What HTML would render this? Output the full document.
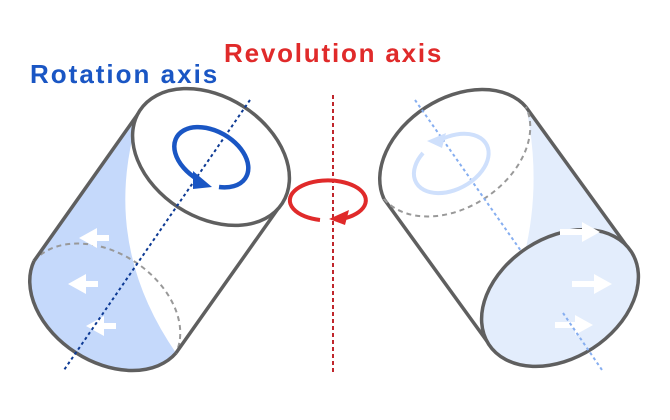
<!DOCTYPE html>
<html><head><meta charset="utf-8"><style>
html,body{margin:0;padding:0;background:#fff;width:670px;height:420px;overflow:hidden}
svg{display:block}
</style></head><body>
<svg width="670" height="420" viewBox="0 0 670 420" xmlns="http://www.w3.org/2000/svg" font-family="Liberation Sans, sans-serif">
<!-- LEFT CYLINDER -->
<path d="M140,111 L34,261 A85 60 33 0 0 176,353 Q98,240 140,111 Z" fill="#c5d9fb"/>
<path d="M34,261 A85 60 33 0 1 176,353" fill="none" stroke="#999" stroke-width="2" stroke-dasharray="5 4"/>
<path d="M34,261 A85 60 33 0 0 176,353" fill="none" stroke="#5f5f5f" stroke-width="3.5"/>
<line x1="140" y1="111" x2="34" y2="261" stroke="#5f5f5f" stroke-width="3.5"/>
<line x1="282" y1="203" x2="176" y2="353" stroke="#5f5f5f" stroke-width="3.5"/>
<ellipse cx="211" cy="157" rx="85" ry="60" transform="rotate(33 211 157)" fill="#fff" stroke="#5f5f5f" stroke-width="3.5"/>
<g fill="#fff">
<path d="M109,235 h-12 v-7 l-18,10 18,10 v-7 h12z"/>
<path d="M98,281 h-12 v-7 l-18,10 18,10 v-7 h12z"/>
<path d="M116,323 h-12 v-7 l-18,10 18,10 v-7 h12z"/>
</g>
<line x1="250" y1="100" x2="64" y2="370" stroke="#0d3a94" stroke-width="2" stroke-dasharray="3 3"/>
<!-- blue rotation arrow -->
<path d="M219,187 A40 26 30 1 0 197,179" fill="none" stroke="#1a56c4" stroke-width="4.5"/>
<path d="M193,171 L212,187 L193,189 Z" fill="#1a56c4"/>
<!-- RIGHT CYLINDER -->
<path d="M526,107 Q552,230 489,344 A85 60 -33 0 0 631,252 Z" fill="#e3edfc"/>
<line x1="526" y1="107" x2="631" y2="252" stroke="#5f5f5f" stroke-width="3.5"/>
<line x1="384" y1="199" x2="489" y2="344" stroke="#5f5f5f" stroke-width="3.5"/>
<path d="M384,199 A85 60 -33 0 1 526,107" fill="none" stroke="#5f5f5f" stroke-width="3.5"/>
<path d="M384,199 A85 60 -33 0 0 526,107" fill="none" stroke="#999" stroke-width="2" stroke-dasharray="5 4"/>
<line x1="415" y1="100" x2="540" y2="278" stroke="#86aef0" stroke-width="2" stroke-dasharray="3 3"/>
<ellipse cx="560" cy="298" rx="85" ry="60" transform="rotate(-33 560 298)" fill="#e3edfc" stroke="#5f5f5f" stroke-width="3.5"/>
<g fill="#fff">
<path d="M560,229 h22 v-7 l18,10 -18,10 v-7 h-22z"/>
<path d="M572,281 h22 v-7 l18,10 -18,10 v-7 h-22z"/>
<path d="M555,322 h20 v-7 l18,10 -18,10 v-7 h-20z"/>
</g>
<line x1="563" y1="313" x2="602" y2="370" stroke="#86aef0" stroke-width="2" stroke-dasharray="3 3"/>
<!-- light rotation arrow -->
<path d="M423,153 A40 26 -28 1 0 440,140" fill="none" stroke="#cfe0fc" stroke-width="4"/>
<path d="M427,141 L446,133 L442,148 Z" fill="#cfe0fc"/>
<!-- revolution -->
<line x1="333" y1="95" x2="333" y2="375" stroke="#c0262c" stroke-width="2" stroke-dasharray="4 3"/>
<path d="M320,220 A38 20 0 1 1 346,218" fill="none" stroke="#e02a2a" stroke-width="4"/>
<path d="M329,219 L349,210 L345,225 Z" fill="#e02a2a"/>
<text x="30" y="83" font-size="26" font-weight="bold" fill="#1a56c4" letter-spacing="2">Rotation axis</text>
<text x="224" y="62" font-size="26" font-weight="bold" fill="#e02a2a" letter-spacing="1.8">Revolution axis</text>
</svg>
</body></html>
